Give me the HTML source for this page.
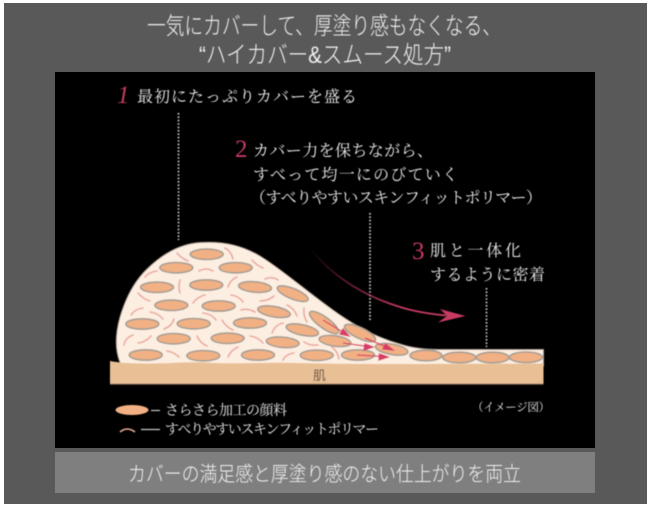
<!DOCTYPE html>
<html lang="ja">
<head>
<meta charset="utf-8">
<style>
html,body{margin:0;padding:0;background:#fff;width:650px;height:509px;overflow:hidden}
svg{display:block}
.t{font-family:"Liberation Sans","Noto Sans CJK JP",sans-serif;font-weight:300;fill:#f2f2f2}
.s{font-family:"Liberation Serif","Noto Serif CJK SC",serif;fill:#ececec}
.n{font-family:"Liberation Serif",serif;fill:#c43a60}
</style>
</head>
<body>
<svg width="650" height="509" viewBox="0 0 650 509" xmlns="http://www.w3.org/2000/svg">
<defs>
<linearGradient id="g" gradientUnits="userSpaceOnUse" x1="310" y1="248" x2="400" y2="308">
<stop offset="0" stop-color="#c43a60" stop-opacity="0"/>
<stop offset="1" stop-color="#c43a60"/>
</linearGradient>
<filter id="b" x="-2%" y="-2%" width="104%" height="104%"><feGaussianBlur stdDeviation="0.45"/></filter>
</defs>
<rect width="650" height="509" fill="#fff"/>
<rect x="4" y="3" width="643" height="501" fill="#595959"/>
<rect x="55" y="72" width="540" height="376" fill="#000"/>
<rect x="55" y="452" width="540" height="41" fill="#7f7f7f"/>

<g filter="url(#b)">
<text class="t" x="147" y="34" font-size="24" textLength="354" lengthAdjust="spacingAndGlyphs">一気にカバーして、厚塗り感もなくなる、</text>
<text class="t" x="199" y="63" font-size="24" textLength="252" lengthAdjust="spacingAndGlyphs">“ハイカバー&amp;スムース処方”</text>
<text class="t" x="128" y="481" font-size="20.500" textLength="393" lengthAdjust="spacingAndGlyphs">カバーの満足感と厚塗り感のない仕上がりを両立</text>

<text class="n" x="117" y="103" font-size="25" font-style="italic">1</text>
<text class="s" x="137" y="102" font-size="16" textLength="220">最初にたっぷりカバーを盛る</text>
<text class="n" x="235" y="157" font-size="25">2</text>
<text class="s" x="253" y="156" font-size="16" textLength="180">カバー力を保ちながら、</text>
<text class="s" x="253" y="180" font-size="16" textLength="205">すべって均一にのびていく</text>
<text class="s" x="250" y="203" font-size="16" textLength="292">（すべりやすいスキンフィットポリマー）</text>
<text class="n" x="412" y="259" font-size="25">3</text>
<text class="s" x="430" y="256" font-size="16" textLength="91">肌と一体化</text>
<text class="s" x="430" y="280" font-size="16" textLength="115">するように密着</text>

<!-- dotted leaders -->
<g stroke="#d8d8d8" stroke-width="1.600" stroke-dasharray="1.600 1.800" fill="none">
<path d="M178.500 113V240"/>
<path d="M370 213V320"/>
<path d="M486.500 288V347"/>
</g>

<!-- film body -->
<path d="M120 362.500C115 350 115 335 120 317C125 300 133 283 146 270C160 256 178 244 200 242.500C225 241 243 246 260 256C280 268 305 290 333 310C355 326 378 338 400 344C412 348 425 349.500 440 349.500H543.500V366H120Z" fill="#fdeee2" stroke="#a89a8d" stroke-width="1"/>

<!-- skin -->
<path d="M110 361C125 364 150 364 170 363C185 362 200 362 215 363C240 364 270 362 300 363C350 364.500 450 364 543.500 363.500V384H110Z" fill="#e9c095"/>
<path d="M110 384.300H543.500" stroke="#6a5a48" stroke-width="1"/>
<text x="313" y="380" font-size="13" font-family="'Liberation Sans','Noto Sans CJK JP',sans-serif" fill="#5a4a3a">肌</text>

<!-- pigments -->
<g fill="#f2b184" stroke="#a69d93" stroke-width="1.600">
<ellipse cx="206.700" cy="254.300" rx="16.500" ry="5.200"/>
<ellipse cx="176.300" cy="267.700" rx="16.500" ry="5.200"/>
<ellipse cx="235.700" cy="267.700" rx="16.500" ry="5.200"/>
<ellipse cx="157" cy="287.300" rx="16.500" ry="5.200"/>
<ellipse cx="206.300" cy="285" rx="16.500" ry="5.200"/>
<ellipse cx="255" cy="287" rx="16.500" ry="5.200" transform="rotate(5 255 287)"/>
<ellipse cx="292.700" cy="293.700" rx="16.500" ry="5.200" transform="rotate(22 292.700 293.700)"/>
<ellipse cx="171.300" cy="305.300" rx="16.500" ry="5.200"/>
<ellipse cx="218.700" cy="306" rx="16.500" ry="5.200"/>
<ellipse cx="274" cy="311.700" rx="16.500" ry="5.200" transform="rotate(10 274 311.700)"/>
<ellipse cx="142.300" cy="324" rx="16.500" ry="5.200"/>
<ellipse cx="193.700" cy="323.700" rx="16.500" ry="5.200"/>
<ellipse cx="250" cy="323" rx="16.500" ry="5.200"/>
<ellipse cx="302.300" cy="330" rx="16.500" ry="5.200" transform="rotate(12 302.300 330)"/>
<ellipse cx="324" cy="322.500" rx="17.500" ry="5.500" transform="rotate(36 324 322.500)"/>
<ellipse cx="173.700" cy="338.700" rx="16.500" ry="5.200"/>
<ellipse cx="227.700" cy="338.300" rx="16.500" ry="5.200"/>
<ellipse cx="282.700" cy="342.300" rx="16.500" ry="5.200" transform="rotate(5 282.700 342.300)"/>
<ellipse cx="335" cy="341" rx="16" ry="5.200" transform="rotate(8 335 341)"/>
<ellipse cx="360" cy="333" rx="17" ry="5.400" transform="rotate(25 360 333)"/>
<ellipse cx="145.700" cy="355" rx="16.500" ry="5.200"/>
<ellipse cx="203.300" cy="355.700" rx="16.500" ry="5.200"/>
<ellipse cx="258" cy="355" rx="16.500" ry="5.200"/>
<ellipse cx="316.700" cy="355.300" rx="16.500" ry="5.200"/>
<ellipse cx="358" cy="355" rx="16.500" ry="5.200"/>
<ellipse cx="391.700" cy="349.300" rx="16.500" ry="5.200" transform="rotate(10 391.700 349.300)"/>
<ellipse cx="426" cy="355.500" rx="16" ry="5.300"/>
<ellipse cx="459.300" cy="357.500" rx="16.500" ry="5.300"/>
<ellipse cx="492.700" cy="357.500" rx="16.500" ry="5.300"/>
<ellipse cx="526" cy="357.300" rx="16.500" ry="5.300"/>
</g>

<!-- polymer strands -->
<g fill="none" stroke="#eba99e" stroke-width="1.600" stroke-linecap="round">
<path d="M177 253Q181 258 188 261"/>
<path d="M225 248Q231 251 233 259"/>
<path d="M252 260Q256 265 263 268"/>
<path d="M145 277Q149 272 157 271"/>
<path d="M199 271Q206 267 213 271"/>
<path d="M180 280Q178 287 180 293"/>
<path d="M228 287Q230 280 237 277"/>
<path d="M265 279Q272 276 278 280"/>
<path d="M138 293Q143 299 150 301"/>
<path d="M193 303Q197 297 205 295"/>
<path d="M231 295Q239 296 243 302"/>
<path d="M260 301Q268 301 274 296"/>
<path d="M131 315Q135 309 143 308"/>
<path d="M150 312Q158 313 163 319"/>
<path d="M164 329Q172 326 174 319"/>
<path d="M203 313Q212 314 216 320"/>
<path d="M222 320Q226 327 233 330"/>
<path d="M241 310Q248 308 255 312"/>
<path d="M287 305Q294 308 297 316"/>
<path d="M304 308Q303 316 307 322"/>
<path d="M272 333Q275 325 283 323"/>
<path d="M124 345Q125 338 133 335"/>
<path d="M138 343Q146 342 151 336"/>
<path d="M197 336Q200 343 207 346"/>
<path d="M250 336Q258 337 263 343"/>
<path d="M304 342Q310 346 318 345"/>
<path d="M167 351Q174 352 179 357"/>
<path d="M228 357Q231 350 238 347"/>
<path d="M283 360Q286 354 294 353"/>
<path d="M332 347Q338 352 339 359"/>
</g>

<!-- small flow arrows -->
<g stroke="#d83c66" stroke-width="1.300" fill="#d83c66">
<path d="M323 320L346 334" fill="none"/><path d="M349 336L340 334L343 329Z"/>
<path d="M343 343L368 346.500" fill="none"/><path d="M373 347L364 350L365 344Z"/>
<path d="M365 338L388 347.500" fill="none"/><path d="M393 350L383 349L385.500 344Z"/>
<path d="M357 355L383 356.500" fill="none"/><path d="M388 357L379 360L379.500 354Z"/>
</g>

<!-- main arrow -->
<path d="M310 248C335 280 370 298 400 307C416 312 430 314 446 315.500" fill="none" stroke="url(#g)" stroke-width="1.800"/>
<path d="M465.500 316L440 309L447 316L438 322.500Z" fill="#c93a62"/>

<!-- legend -->
<ellipse cx="132" cy="410" rx="16.500" ry="5" fill="#f2b184"/>
<path d="M151 410.500H160" stroke="#c8c8c8" stroke-width="1.200"/>
<text class="s" x="165" y="415" font-size="14" textLength="122">さらさら加工の顔料</text>
<path d="M120 432Q127 426 135 432" fill="none" stroke="#eeb38f" stroke-width="1.500"/>
<path d="M141 429.500H160" stroke="#c8c8c8" stroke-width="1.200"/>
<text class="s" x="165" y="434" font-size="14" textLength="214">すべりやすいスキンフィットポリマー</text>
<text class="s" x="472" y="411" font-size="11.500" textLength="78">（イメージ図）</text>
</g>
</svg>
</body>
</html>
